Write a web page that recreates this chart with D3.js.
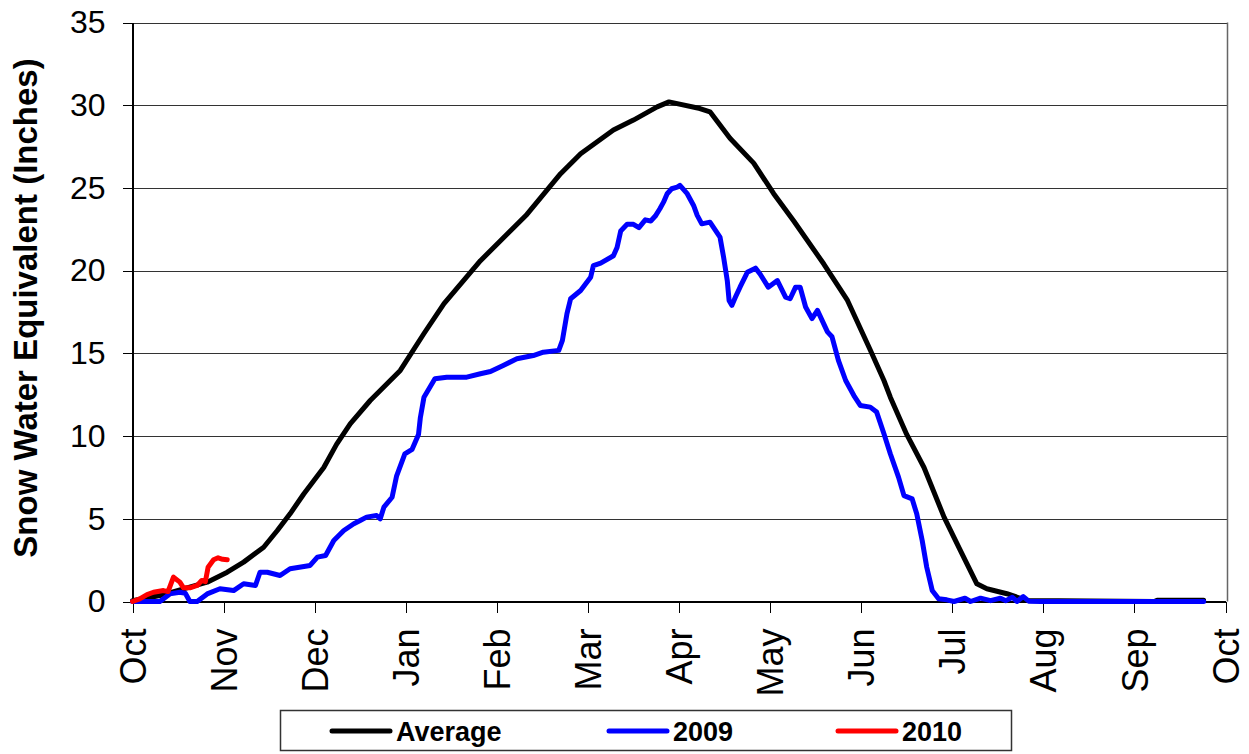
<!DOCTYPE html>
<html>
<head>
<meta charset="utf-8">
<title>Snow Water Equivalent</title>
<script src="https://d3js.org/d3.v7.min.js"></script>
<style>
    body { margin: 0; background: #fff; }
    svg { display: block; font-family: Arial, "Liberation Sans", sans-serif; }
    .grid line { stroke: #333; stroke-width: 1; shape-rendering: crispEdges; }
    .axis path, .axis line { stroke: #000; shape-rendering: crispEdges; }
    .series { fill: none; stroke-width: 5; stroke-linejoin: round; stroke-linecap: round; }
</style>
</head>
<body>
<div id="chart"></div>
<script>
// month labels along the water year (x = months since Oct 1)
const monthLabels = ["Oct", "Nov", "Dec", "Jan", "Feb", "Mar", "Apr", "May", "Jun", "Jul", "Aug", "Sep", "Oct"];
const yTicks = [0, 5, 10, 15, 20, 25, 30, 35];

// [months since Oct 1, SWE inches]
const average = [
    [0.00, 0.05], [0.30, 0.36], [0.55, 0.75], [0.82, 1.17], [1.04, 1.77], [1.22, 2.38], [1.44, 3.28],
    [1.59, 4.29], [1.73, 5.3], [1.88, 6.5], [1.99, 7.3], [2.10, 8.1], [2.24, 9.5], [2.39, 10.74],
    [2.61, 12.15], [2.94, 13.97], [3.20, 16.2], [3.42, 18.0], [3.82, 20.6], [4.33, 23.4], [4.70, 25.86],
    [4.92, 27.07], [5.28, 28.5], [5.50, 29.1], [5.76, 29.9], [5.89, 30.2], [6.23, 29.8], [6.34, 29.6],
    [6.56, 28.0], [6.82, 26.5], [7.04, 24.65], [7.26, 23.0], [7.59, 20.4], [7.85, 18.2], [8.10, 15.2],
    [8.25, 13.36], [8.32, 12.35], [8.50, 10.1], [8.69, 8.1], [8.91, 5.1], [9.09, 3.08], [9.27, 1.07],
    [9.38, 0.77], [9.60, 0.47], [9.82, 0.06], [11.22, 0.0], [11.25, 0.08], [11.76, 0.08]
];

const y2009 = [
    [0.00, 0], [0.30, 0], [0.41, 0.46], [0.52, 0.56], [0.58, 0.5], [0.63, 0], [0.71, 0], [0.82, 0.46],
    [0.96, 0.77], [1.11, 0.66], [1.22, 1.07], [1.35, 0.97], [1.40, 1.77], [1.48, 1.77], [1.62, 1.57],
    [1.73, 1.98], [1.95, 2.18], [2.03, 2.68], [2.12, 2.78], [2.21, 3.69], [2.32, 4.29], [2.43, 4.7],
    [2.50, 4.9], [2.57, 5.1], [2.68, 5.2], [2.72, 5.0], [2.76, 5.7], [2.85, 6.3], [2.90, 7.6],
    [2.99, 8.93], [3.07, 9.2], [3.14, 10.1], [3.16, 11.1], [3.20, 12.35], [3.32, 13.46], [3.45, 13.56],
    [3.67, 13.56], [3.82, 13.77], [3.93, 13.9], [4.07, 14.27], [4.22, 14.67], [4.40, 14.87], [4.51, 15.07],
    [4.68, 15.18], [4.72, 15.78], [4.77, 17.4], [4.81, 18.3], [4.92, 18.8], [5.03, 19.6], [5.06, 20.3],
    [5.14, 20.45], [5.28, 20.9], [5.32, 21.4], [5.36, 22.4], [5.43, 22.8], [5.50, 22.8], [5.56, 22.6],
    [5.63, 23.07], [5.69, 23.0], [5.74, 23.3], [5.79, 23.74], [5.83, 24.14], [5.87, 24.65], [5.92, 24.95],
    [5.98, 25.05], [6.01, 25.15], [6.09, 24.65], [6.16, 23.94], [6.20, 23.34], [6.25, 22.83], [6.34, 22.93],
    [6.45, 22.03], [6.49, 20.8], [6.53, 19.4], [6.55, 18.2], [6.58, 17.9], [6.62, 18.4], [6.67, 19.0],
    [6.75, 19.9], [6.84, 20.15], [6.89, 19.8], [6.98, 19.0], [7.08, 19.4], [7.17, 18.4], [7.22, 18.3],
    [7.28, 19.0], [7.33, 19.0], [7.39, 17.8], [7.46, 17.1], [7.52, 17.6], [7.63, 16.3], [7.68, 16.0],
    [7.75, 14.57], [7.83, 13.36], [7.92, 12.45], [7.99, 11.85], [8.10, 11.75], [8.17, 11.45], [8.25, 10.14],
    [8.32, 8.93], [8.41, 7.52], [8.47, 6.4], [8.56, 6.2], [8.61, 5.3], [8.67, 3.69], [8.72, 2.07],
    [8.78, 0.67], [8.85, 0.16], [8.94, 0.1], [9.02, 0], [9.14, 0.2], [9.20, 0], [9.31, 0.2], [9.42, 0.05],
    [9.53, 0.2], [9.59, 0.05], [9.66, 0.26], [9.71, 0], [9.78, 0.3], [9.84, 0.02], [9.97, 0], [11.76, 0]
];

const y2010 = [
    [0.00, 0], [0.08, 0.16], [0.16, 0.42], [0.23, 0.56], [0.34, 0.66], [0.39, 0.6], [0.45, 1.47],
    [0.52, 1.17], [0.56, 0.83], [0.63, 0.83], [0.71, 0.97], [0.76, 1.27], [0.80, 1.2], [0.83, 2.07],
    [0.89, 2.52], [0.94, 2.64], [0.99, 2.55], [1.04, 2.52]
];

const seriesNames = ["Average", "2009", "2010"];
const seriesColors = ["#000000", "#0000ff", "#ff0000"];

const W = 1249, H = 754;
const plot = { left: 132.5, right: 1225.5, top: 22.5, bottom: 601.5 };

const svg = d3.select("#chart").append("svg")
    .attr("width", W)
    .attr("height", H);

const x = d3.scaleLinear().domain([0, 12]).range([plot.left, plot.right]);
const y = d3.scaleLinear().domain([0, 35]).range([plot.bottom, plot.top]);

// horizontal gridlines (extend over y tick marks)
svg.append("g")
    .attr("class", "grid")
    .selectAll("line")
    .data(yTicks.filter(d => d > 0))
    .enter().append("line")
    .attr("x1", plot.left - 10)
    .attr("x2", plot.right + 2)
    .attr("y1", d => Math.round(y(d)) + 0.5)
    .attr("y2", d => Math.round(y(d)) + 0.5);

// right border of plot area
svg.append("line")
    .attr("x1", plot.right + 2).attr("x2", plot.right + 2)
    .attr("y1", y(35)).attr("y2", y(0))
    .attr("stroke", "#666").attr("stroke-width", 1.5);

// y axis
const yAxis = svg.append("g")
    .attr("class", "axis")
    .attr("transform", `translate(${plot.left},0)`)
    .call(d3.axisLeft(y).tickValues(yTicks).tickSize(10).tickPadding(17).tickSizeOuter(0));
yAxis.selectAll("text")
    .attr("font-size", 32)
    .attr("font-family", "Arial, 'Liberation Sans', sans-serif")
    .attr("fill", "#000");
yAxis.select(".domain").attr("stroke-width", 1.5);

// x axis
const xAxis = svg.append("g")
    .attr("class", "axis")
    .attr("transform", `translate(0,${plot.bottom})`)
    .call(d3.axisBottom(x).tickValues(d3.range(0, 13)).tickSize(11).tickSizeOuter(0)
        .tickFormat(i => monthLabels[i]));
xAxis.selectAll("text")
    .attr("font-size", 36)
    .attr("font-family", "Arial, 'Liberation Sans', sans-serif")
    .attr("fill", "#000")
    .attr("text-anchor", "end")
    .attr("transform", "rotate(-90)")
    .attr("x", -27)
    .attr("y", 0)
    .attr("dy", "0.35em");
xAxis.select(".domain").attr("stroke-width", 1.5);

// y title
svg.append("text")
    .attr("transform", "rotate(-90)")
    .attr("x", -308)
    .attr("y", 37)
    .attr("text-anchor", "middle")
    .attr("font-size", 33)
    .attr("font-weight", "bold")
    .text("Snow Water Equivalent (Inches)");

// series lines
const line = d3.line()
    .x(d => x(d[0]))
    .y(d => y(d[1]));

[average, y2009, y2010].forEach((data, i) => {
    svg.append("path")
        .datum(data)
        .attr("class", "series")
        .attr("stroke", seriesColors[i])
        .attr("d", line);
});

// legend
const legend = svg.append("g");
legend.append("rect")
    .attr("x", 280.5).attr("y", 710.5)
    .attr("width", 731).attr("height", 40)
    .attr("fill", "#fff")
    .attr("stroke", "#333")
    .attr("stroke-width", 1.5);

const legendX = [332, 609, 838];
const items = legend.selectAll("g.item")
    .data(seriesNames)
    .enter().append("g")
    .attr("class", "item")
    .attr("transform", (d, i) => `translate(${legendX[i]},731)`);

items.append("line")
    .attr("x1", 0).attr("x2", 58)
    .attr("y1", 0).attr("y2", 0)
    .attr("stroke", (d, i) => seriesColors[i])
    .attr("stroke-width", 5)
    .attr("stroke-linecap", "round");

items.append("text")
    .attr("x", 64)
    .attr("y", 10)
    .attr("font-size", 27)
    .attr("font-weight", "bold")
    .text(d => d);
</script>
</body>
</html>
